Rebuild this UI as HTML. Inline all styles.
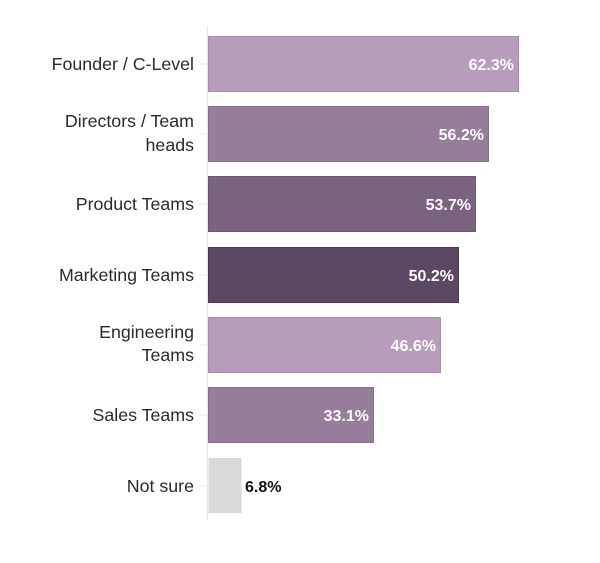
<!DOCTYPE html>
<html><head><style>
body{margin:0;background:#fff;width:600px;height:558px;overflow:hidden;font-family:"Liberation Sans",sans-serif}
</style></head><body>
<svg width="600" height="558" xmlns="http://www.w3.org/2000/svg" font-family="Liberation Sans, sans-serif">
<line x1="207.5" y1="26" x2="207.5" y2="520" stroke="#e6e6e6" stroke-width="1"/>
<g stroke="#e6e6e6"><line x1="199" y1="64" x2="207" y2="64"/><line x1="199" y1="134" x2="207" y2="134"/><line x1="199" y1="204" x2="207" y2="204"/><line x1="199" y1="275" x2="207" y2="275"/><line x1="199" y1="345" x2="207" y2="345"/><line x1="199" y1="415" x2="207" y2="415"/><line x1="199" y1="486" x2="207" y2="486"/></g>
<rect x="208.5" y="36.5" width="310" height="55" fill="#b79cbc" stroke="#a88dae"/>
<rect x="208.5" y="106.5" width="280" height="55" fill="#967e9a" stroke="#87708c"/>
<rect x="208.5" y="176.5" width="267" height="55" fill="#79637e" stroke="#6a5570"/>
<rect x="208.5" y="247.5" width="250" height="55" fill="#5c4862" stroke="#4d3b53"/>
<rect x="208.5" y="317.5" width="232" height="55" fill="#b79cbc" stroke="#a88dae"/>
<rect x="208.5" y="387.5" width="165" height="55" fill="#967e9a" stroke="#87708c"/>
<rect x="208.5" y="458" width="33" height="55" fill="#d9d9d9"/>
<g font-size="16" font-weight="bold" fill="#fff" text-anchor="end">
<text x="514" y="70">62.3%</text><text x="484" y="140">56.2%</text><text x="471" y="210">53.7%</text><text x="454" y="281">50.2%</text><text x="436" y="351">46.6%</text><text x="369" y="421">33.1%</text>
</g>
<text x="245" y="492" font-size="16" font-weight="bold" fill="#111">6.8%</text>
<g font-size="17.8" fill="#2a2a2a" text-anchor="end">
<text x="194" y="70">Founder / C-Level</text>
<text x="194" y="127">Directors / Team</text><text x="194" y="151">heads</text>
<text x="194" y="210">Product Teams</text>
<text x="194" y="281">Marketing Teams</text>
<text x="194" y="338">Engineering</text><text x="194" y="361">Teams</text>
<text x="194" y="421">Sales Teams</text>
<text x="194" y="492">Not sure</text>
</g>
</svg>
</body></html>
